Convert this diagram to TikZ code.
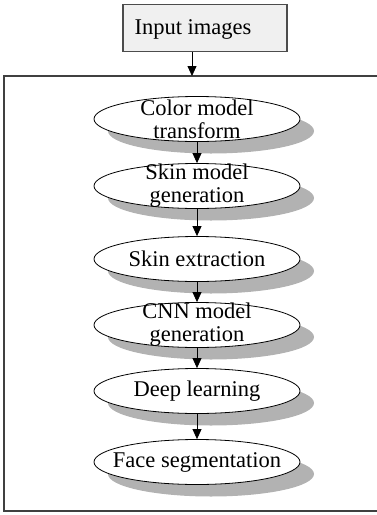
\documentclass[tikz,border=0pt]{standalone}
\usepackage{fontspec}
\setmainfont{Liberation Serif}
\usepackage{tikz}
\usetikzlibrary{arrows.meta,shapes.geometric,shadows}

\begin{document}
\begin{tikzpicture}[x=1pt,y=-1pt,
  every node/.style={font=\fontsize{22.5}{23}\selectfont},
  stage/.style={ellipse,draw=black,line width=0.8pt,fill=white,
    minimum width=206pt,minimum height=45pt,inner sep=0pt,
    drop shadow={shadow xshift=14pt,shadow yshift=-12pt,fill=black!30,opacity=1}},
  stagetext/.style={align=center,inner sep=0pt},
  flow/.style={draw=black,line width=0.8pt,-{Triangle[length=10pt,width=9pt]}}]
  \useasboundingbox (0,0) rectangle (377,515);
  % input box and outer frame
  \node[draw=black!70,line width=1.2pt,fill=black!6,minimum width=164pt,
    minimum height=47pt,inner sep=0pt] (input) at (205,28) {};
  \node[inner sep=0pt] (inputtext) at (193,29) {Input images};
  \draw[black!75,line width=1.2pt] (378,76) -- (4,76) -- (4,511) -- (378,511);
  \coordinate (frametop) at (192,76);
  % stages
  \node[stage,label={[stagetext]center:{Color model\\transform}}] (color) at (197,119) {};
  \node[stage,label={[stagetext]center:{Skin model\\generation}}] (skinmodel) at (197,186) {};
  \node[stage,label={[stagetext]center:{Skin extraction}}] (skinext) at (197,259) {};
  \node[stage,label={[stagetext]center:{CNN model\\generation}}] (cnn) at (197,325) {};
  \node[stage,label={[stagetext]center:{Deep learning}}] (deep) at (197,391) {};
  \node[stage,label={[stagetext]center:{Face segmentation}}] (face) at (197,462) {};
  % arrows
  \draw[flow] (input.south -| frametop) -- (frametop);
  \draw[flow] (color) -- (skinmodel);
  \draw[flow] (skinmodel) -- (skinext);
  \draw[flow] (skinext) -- (cnn);
  \draw[flow] (cnn) -- (deep);
  \draw[flow] (deep) -- (face);
\end{tikzpicture}
\end{document}
